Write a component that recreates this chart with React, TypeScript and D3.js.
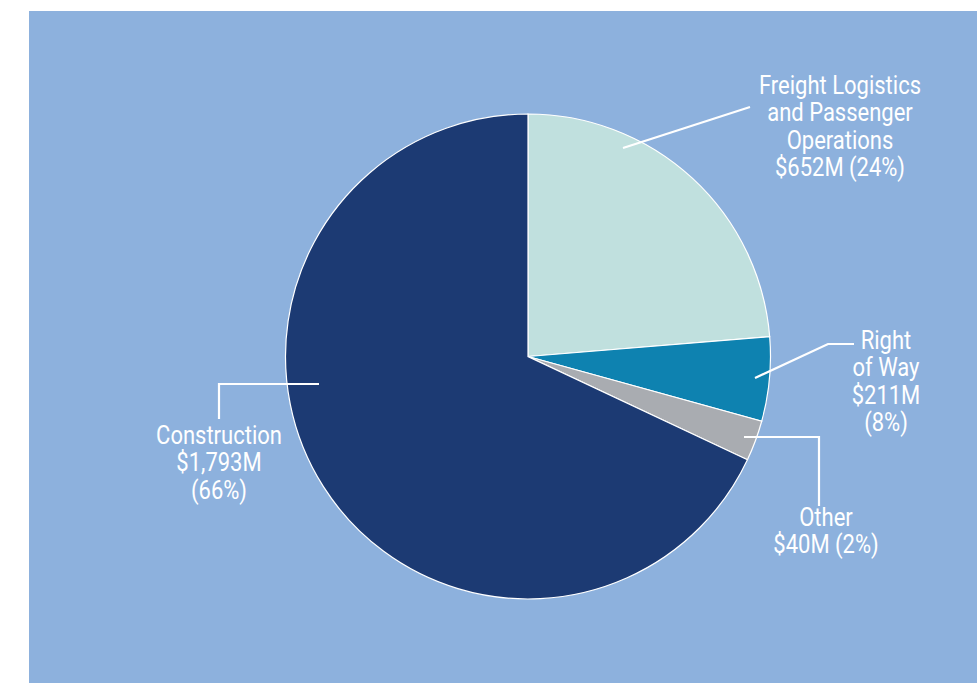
import React from "react";
import * as d3 from "d3";

const categories = ["Freight Logistics and Passenger Operations", "Right of Way", "Other", "Construction"];
// labelled amounts ($M) and percentages
const amounts = [652, 211, 40, 1793];
const percents = [24, 8, 2, 66];
// slice sizes as drawn in the picture (% of the circle)
const sliceShares = [23.7, 5.6, 2.7, 68.0];
const nameLines = [
  ["Freight Logistics", "and Passenger", "Operations"],
  ["Right", "of Way"],
  ["Other"],
  ["Construction"],
];
const colors = ["#c0e0de", "#0e82b0", "#a9acb1", "#1c3a73"];

const fmtAmt = (v: number) => `$${d3.format(",")(v)}M`;
const labelLines = [
  [...nameLines[0], `${fmtAmt(amounts[0])} (${percents[0]}%)`],
  [...nameLines[1], fmtAmt(amounts[1]), `(${percents[1]}%)`],
  [...nameLines[2], `${fmtAmt(amounts[2])} (${percents[2]}%)`],
  [...nameLines[3], fmtAmt(amounts[3]), `(${percents[3]}%)`],
];

const W = 977, H = 683;
const cx = 528, cy = 356.5, R = 242.5;

const labelPos = [
  { x: 840, y: 94 },
  { x: 886, y: 349 },
  { x: 826, y: 526 },
  { x: 219, y: 444 },
];
const leaders = [
  [[623, 148], [750, 107]],
  [[755, 378], [828, 344], [854, 344]],
  [[744, 437], [819, 437], [819, 506]],
  [[319, 384], [219, 384], [219, 419]],
];

export default function App() {
  const pie = d3.pie<number>().sort(null).value((d) => d)(sliceShares);
  const arc = d3.arc<d3.PieArcDatum<number>>().innerRadius(0).outerRadius(R);
  const line = d3.line();
  return (
    <svg width={W} height={H} style={{ position: "absolute", left: 0, top: 0 }}>
      <rect x={29} y={11} width={W - 29} height={H - 11} fill="#8db1dd" />
      <g transform={`translate(${cx},${cy})`}>
        {pie.map((p, i) => (
          <path key={categories[i]} d={arc(p) || ""} fill={colors[i]} stroke="#ffffff" strokeWidth={1.2} />
        ))}
      </g>
      {leaders.map((pts, i) => (
        <path key={i} d={line(pts as [number, number][]) || ""} fill="none" stroke="#ffffff" strokeWidth={2.2} />
      ))}
      {labelLines.map((lines, i) => (
        <text
          key={i}
          transform={`translate(${labelPos[i].x},0) scale(0.88,1)`}
          textAnchor="middle"
          fill="#ffffff"
          fontFamily="Roboto, sans-serif"
          fontSize={25}
        >
          {lines.map((l, j) => (
            <tspan key={j} x={0} y={labelPos[i].y + j * 27.3}>
              {l}
            </tspan>
          ))}
        </text>
      ))}
    </svg>
  );
}
